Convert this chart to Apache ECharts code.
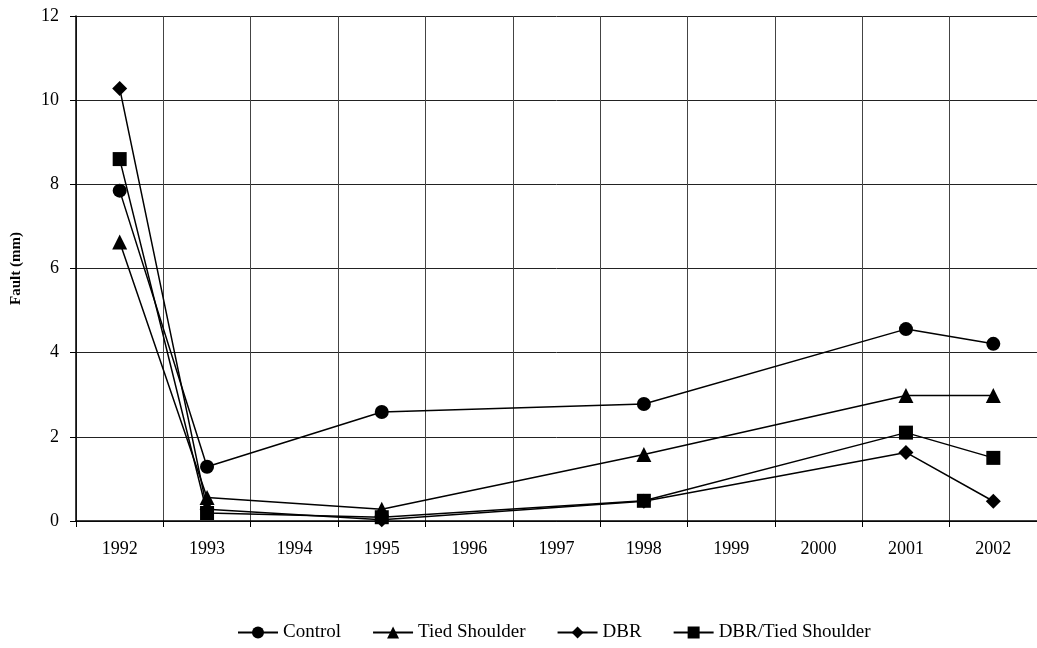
<!DOCTYPE html>
<html>
<head>
<meta charset="utf-8">
<script src="https://cdn.jsdelivr.net/npm/echarts@6/dist/echarts.min.js"></script>
<style>html,body{margin:0;padding:0;background:#fff}#c{width:1037px;height:648px}</style>
</head>
<body>
<div id="c"></div>
<script>
const years = ['1992','1993','1994','1995','1996','1997','1998','1999','2000','2001','2002'];
const control = [7.85, 1.29, null, 2.59, null, null, 2.78, null, null, 4.56, 4.21];
const tiedShoulder = [6.63, 0.56, null, 0.28, null, null, 1.58, null, null, 2.98, 2.98];
const dbr = [10.28, 0.28, null, 0.03, null, null, 0.47, null, null, 1.63, 0.47];
const dbrTied = [8.60, 0.19, null, 0.09, null, null, 0.48, null, null, 2.10, 1.50];
const yTicks = [0, 2, 4, 6, 8, 10, 12];

const font = 'Liberation Serif';
function mk(name, data, symbol, size) {
  return {
    name, type: 'line', data, symbol, symbolSize: size, connectNulls: true,
    lineStyle: { color: '#000', width: 1.5 },
    itemStyle: { color: '#000' },
    emphasis: { disabled: true }, animation: false
  };
}
const chart = echarts.init(document.getElementById('c'), null, { renderer: 'canvas' });
chart.setOption({
  backgroundColor: '#fff',
  animation: false,
  grid: { left: 76, top: 16, width: 966, height: 505, containLabel: false },
  legend: {
    top: 618, left: 232, itemWidth: 40, itemHeight: 15, itemGap: 31,
    textStyle: { fontFamily: font, fontSize: 19, color: '#000' },
    data: ['Control', 'Tied Shoulder', 'DBR', 'DBR/Tied Shoulder']
  },
  xAxis: {
    type: 'category', data: years, boundaryGap: true,
    axisLine: { lineStyle: { color: '#000', width: 1.5 } },
    axisTick: { show: true, length: 6, lineStyle: { color: '#000' } },
    axisLabel: { fontFamily: font, fontSize: 18, color: '#000', margin: 19 },
    splitLine: { show: true, lineStyle: { color: '#444', width: 1 } }
  },
  yAxis: {
    type: 'value', min: yTicks[0], max: yTicks[yTicks.length - 1], interval: 2,
    name: 'Fault (mm)', nameLocation: 'middle', nameGap: 52, nameRotate: 90,
    nameTextStyle: { fontFamily: font, fontSize: 15, fontWeight: 'bold', color: '#000' },
    axisLine: { show: true, lineStyle: { color: '#000', width: 1.5 } },
    axisTick: { show: true, length: 6, lineStyle: { color: '#000' } },
    axisLabel: { fontFamily: font, fontSize: 18, color: '#000', margin: 17 },
    splitLine: { show: true, lineStyle: { color: '#222', width: 1 } }
  },
  series: [
    mk('Control', control, 'circle', 14),
    mk('Tied Shoulder', tiedShoulder, 'triangle', 15),
    mk('DBR', dbr, 'diamond', 15),
    mk('DBR/Tied Shoulder', dbrTied, 'rect', 14)
  ]
});
</script>
</body>
</html>
